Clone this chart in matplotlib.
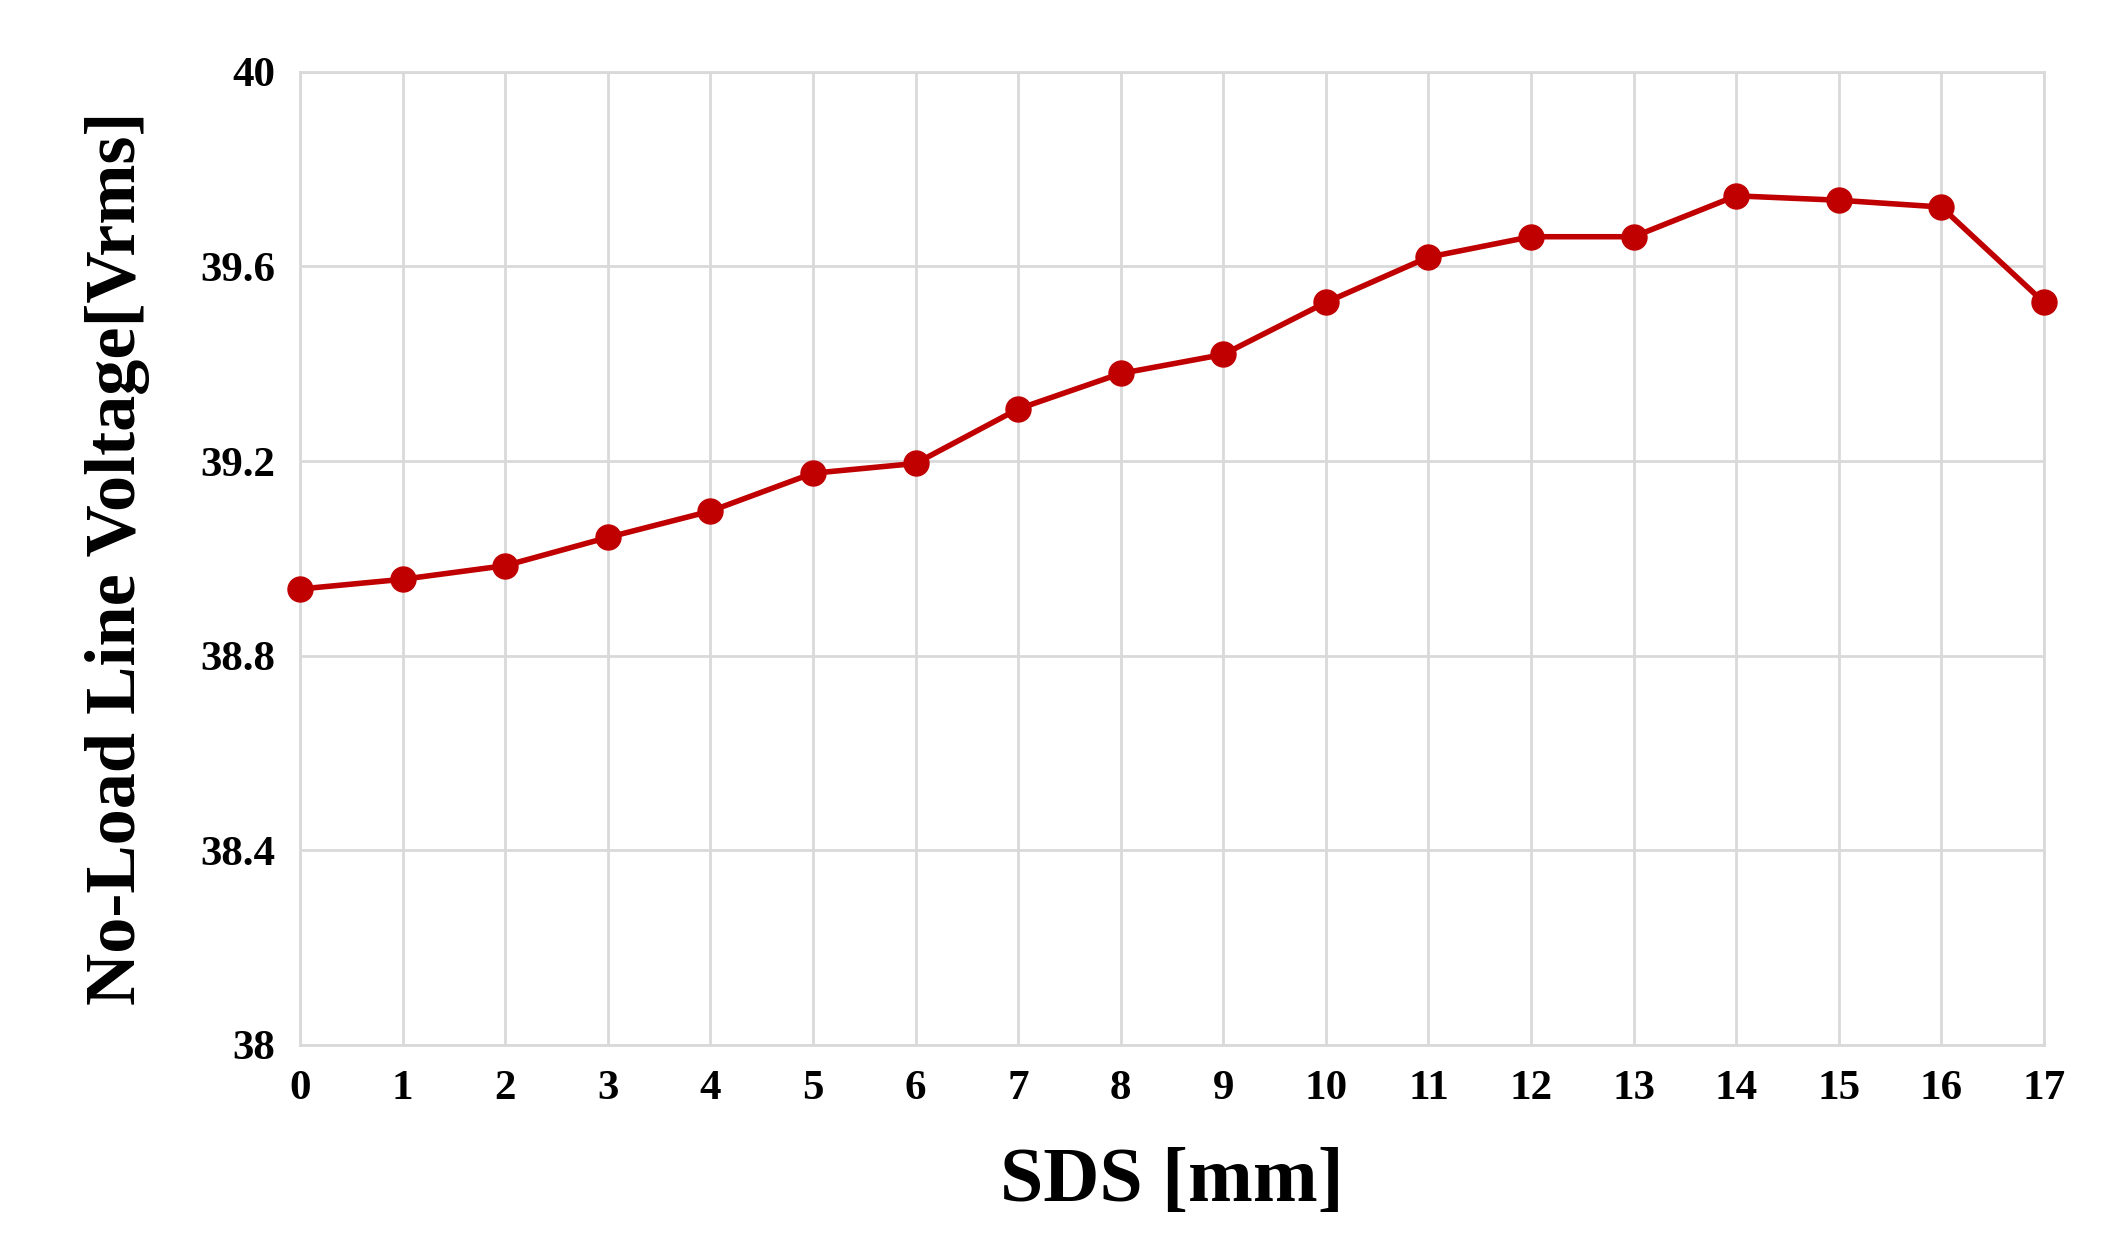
import matplotlib
matplotlib.use("Agg")
import matplotlib.pyplot as plt

sds = list(range(18))
voltage = [38.937, 38.957, 38.985, 39.043, 39.097, 39.175, 39.195, 39.307, 39.380,
           39.419, 39.526, 39.619, 39.661, 39.661, 39.745, 39.736, 39.722, 39.526]
yticks = [38, 38.4, 38.8, 39.2, 39.6, 40]
yticklabels = ["38", "38.4", "38.8", "39.2", "39.6", "40"]

plt.rcParams['font.family'] = ['Liberation Serif', 'DejaVu Serif']
fig = plt.figure(figsize=(21.28, 12.59), dpi=100)
ax = fig.add_axes([0.141, 0.17, 0.825 - 0.0055, 0.773])
ax.plot(sds, voltage, color='#C00000', lw=4, marker='o', ms=18, zorder=3, clip_on=False)
ax.set_xlim(0, 17)
ax.set_ylim(38, 40)
ax.set_xticks(sds)
ax.set_yticks(yticks)
ax.set_yticklabels(yticklabels)
ax.grid(True, color='#d9d9d9', lw=2)
for s in ax.spines.values():
    s.set_color('#d9d9d9'); s.set_linewidth(2)
ax.tick_params(length=0, labelsize=31, pad=18)
for t in ax.get_xticklabels() + ax.get_yticklabels():
    t.set_fontweight('bold')
ax.set_xlabel("SDS [mm]", fontsize=56, fontweight='bold', labelpad=28)
ax.set_ylabel("No-Load Line Voltage[Vrms]", fontsize=52, fontweight='bold', labelpad=36)
fig.savefig("out.png", dpi=100)
